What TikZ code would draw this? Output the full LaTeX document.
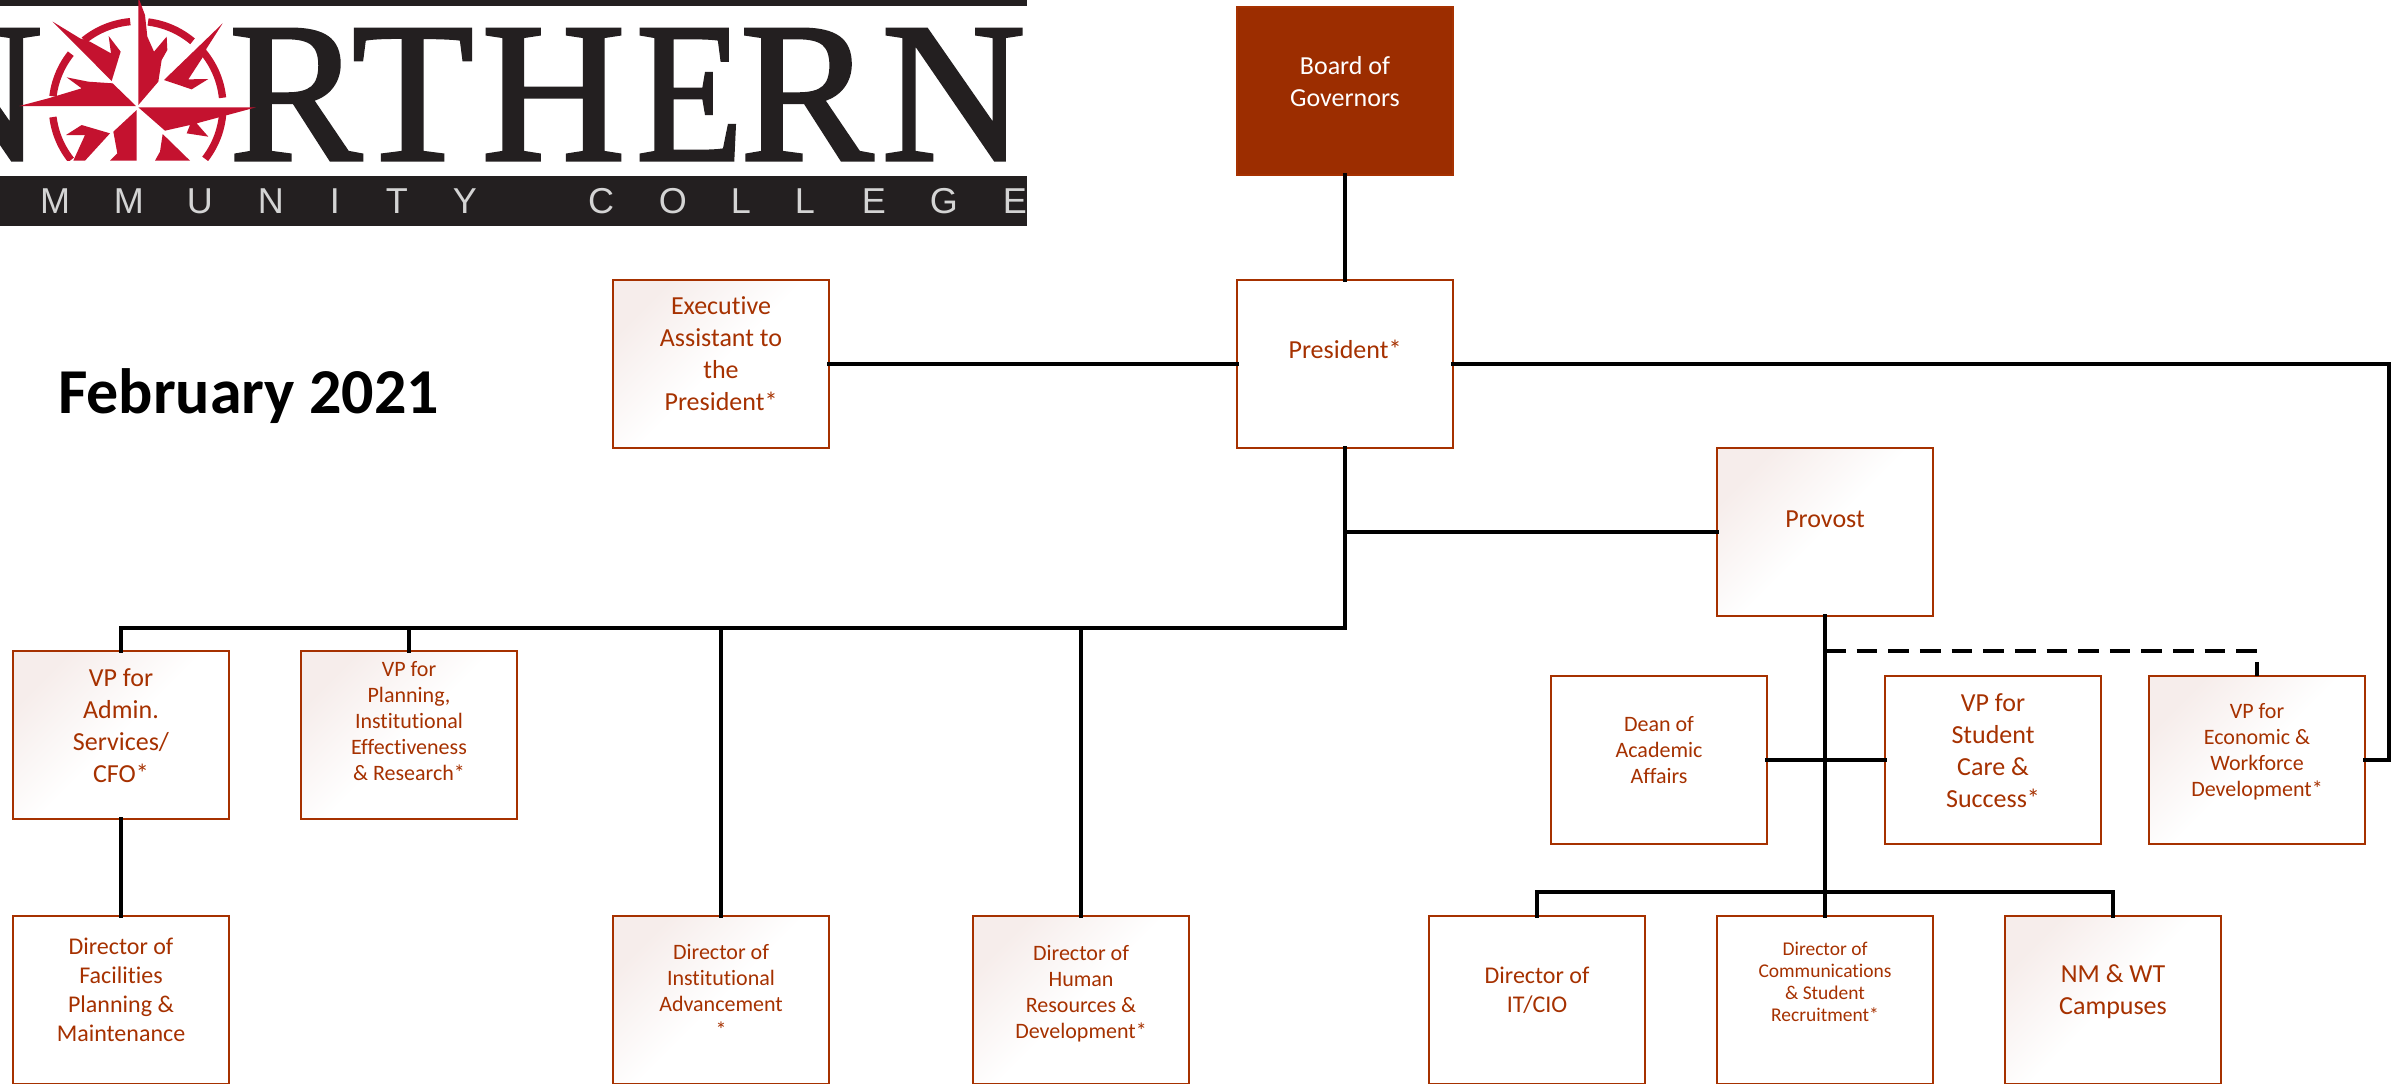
\documentclass[tikz,border=0pt]{standalone}
\usepackage{graphicx}
\usepackage{fontspec}
\setmainfont[Ligatures=NoCommon]{Carlito}
\newfontfamily\logoserif[FakeBold=1.5]{Liberation Serif}
\newfontfamily\logosans{Liberation Sans}
\definecolor{orgred}{HTML}{A63100}
\definecolor{boardred}{HTML}{9C2D00}
\definecolor{gradpink}{HTML}{F6EDEB}
\definecolor{logoblack}{HTML}{231F20}
\definecolor{logored}{HTML}{C4122F}
\definecolor{logogrey}{HTML}{D4D4D4}
\newdimen\pxu \pxu=.75pt
\newcommand\fa{\fontsize{19.5}{24}\selectfont}
\newcommand\fb{\fontsize{18}{21.75}\selectfont}
\newcommand\fc{\fontsize{16.5}{19.5}\selectfont}
\newcommand\fd{\fontsize{14.6}{16.6}\selectfont}
% #1 raise of first baseline above box centre (px), #2 font, #3 lines
\newcommand\bt[3]{\raisebox{#1\pxu}[0pt][0pt]{#2\begin{tabular}[t]{@{}c@{}}#3\end{tabular}}}
% letter centred at absolute x
\newcommand\putl[2]{\rlap{\kern#1\pxu\hbox to 0pt{\hss#2\hss}}}
\tikzset{
  orgbox/.style={draw=orgred,line width=1.7pt,rectangle,minimum width=162pt,minimum height=126pt,inner sep=0pt,outer sep=0pt,text=orgred,fill=white},
  gradbox/.style={orgbox,top color=gradpink,bottom color=white,middle color=white,shading angle=45},
  boardbox/.style={orgbox,fill=boardred,text=white},
  conn/.style={draw=black,line width=2.5pt,line cap=rect},
  dashconn/.style={draw=black,line width=2.5pt,dash pattern=on 15.5pt off 8.23pt},
  plain/.style={inner sep=0pt,outer sep=0pt},
  redarc/.style={draw=logored,line width=5.5pt}
}
\begin{document}
\begin{tikzpicture}[x=.75pt,y=-.75pt]
\path[use as bounding box,clip] (0,0) rectangle (2397,1083);
\fill[white] (0,0) rectangle (2397,1083);
% logo
\fill[logoblack] (0,0) rectangle (1027,6);
\fill[logoblack] (0,176) rectangle (1027,226);
\node[plain,anchor=base west,text=logoblack] (wordmark) at (0,160) {\logoserif\fontsize{150}{150}\selectfont\putl{-30}{N}\putl{295}{R}\putl{412}{T}\putl{553}{H}\putl{689}{\scalebox{.88}[1]{E}}\putl{806}{R}\putl{953}{N}};
\node[plain,anchor=base west,text=logogrey] (tagline) at (0,213) {\logosans\fontsize{27}{27}\selectfont\putl{55}{M}\putl{129}{M}\putl{200}{U}\putl{271}{N}\putl{335}{I}\putl{397}{T}\putl{465}{Y} \putl{591}{C}\putl{663}{O}\putl{731}{L}\putl{795}{L}\putl{864}{E}\putl{934}{G}\putl{1005}{E}};
\begin{scope}[x=.25pt,y=-.25pt,shift={(30,0)}]
  \begin{scope}
  \clip (0,-10) rectangle (780,482);
  \foreach \sa/\ea in {95/129,83/50,40/6,141.6/173,187/218.6,-5.5/-37.7}
    \draw[redarc] plot[domain=\sa:\ea,samples=14] ({383+256*cos(\x)},{320-256*sin(\x)});
  \fill[logored] (385,-8) -- (405,45) -- (412,110) -- (432,155) -- (470,110) -- (472,150) -- (455,180) -- (445,245) -- (385,315) -- cycle;
  \fill[logored] (638,70) -- (462,240) -- (545,268) -- (595,237) -- (535,238) -- (578,172) -- (590,145) -- cycle;
  \fill[logored] (128,65) -- (305,243) -- (332,155) -- (296,108) -- (303,160) -- (240,125) -- (210,115) -- cycle;
  \fill[logored] (28,318) -- (115,295) -- (215,265) -- (170,232) -- (235,245) -- (308,250) -- (378,318) -- cycle;
  \fill[logored] (380,330) -- (380,482) -- (300,482) -- (322,460) -- (310,395) -- cycle;
  \fill[logored] (300,400) -- (215,375) -- (168,405) -- (225,405) -- (190,482) -- (225,482) -- cycle;
  \fill[logored] (385,322) -- (738,322) -- (560,370) -- (595,410) -- (530,400) -- (540,375) -- (465,392) -- cycle;
  \fill[logored] (458,402) -- (540,482) -- (435,482) -- (450,455) -- cycle;
  \end{scope}
\end{scope}
% date
\node[plain,anchor=base west,text=black] (date) at (58,413) {\fontsize{48}{58}\selectfont\bfseries February 2021};
% boxes
\node[boardbox] (board) at (1345,91) {\bt{17}{\fa}{Board of\\Governors}};
\node[orgbox] (president) at (1345,364) {\bt{6}{\fa}{President*}};
\node[gradbox] (exec) at (721,364) {\bt{50}{\fa}{Executive\\Assistant to\\the\\President*}};
\node[gradbox] (provost) at (1825,532) {\bt{5}{\fa}{Provost}};
\node[gradbox] (vpadmin) at (121,735) {\bt{49}{\fa}{VP for\\Admin.\\Services/\\CFO*}};
\node[gradbox] (vpplan) at (409,735) {\bt{59}{\fc}{VP for\\Planning,\\Institutional\\Effectiveness\\\& Research*}};
\node[orgbox] (dean) at (1659,760) {\bt{29}{\fc}{Dean of\\Academic\\Affairs}};
\node[orgbox] (vpstudent) at (1993,760) {\bt{49}{\fa}{VP for\\Student\\Care \&\\Success*}};
\node[gradbox] (vpecon) at (2257,760) {\bt{41.6}{\fc}{VP for\\Economic \&\\Workforce\\Development*}};
\node[orgbox] (dirfac) at (121,1000) {\bt{46}{\fb}{Director of\\Facilities\\Planning \&\\Maintenance}};
\node[gradbox] (dirinst) at (721,1000) {\bt{41}{\fc}{Director of\\Institutional\\Advancement\\{*}}};
\node[gradbox] (dirhr) at (1081,1000) {\bt{40}{\fc}{Director of\\Human\\Resources \&\\Development*}};
\node[orgbox] (dirit) at (1537,1000) {\bt{17}{\fb}{Director of\\IT/CIO}};
\node[orgbox] (dircomm) at (1825,1000) {\bt{45}{\fd}{Director of\\Communications\\\& Student\\Recruitment*}};
\node[gradbox] (nmwt) at (2113,1000) {\bt{18}{\fa}{NM \& WT\\Campuses}};
% junctions
\coordinate (bus) at (1345,628);
\coordinate (lowbus) at (1825,892);
\coordinate (dashstart) at (1825,651);
\coordinate (outer) at (2389,364);
% connectors
\draw[conn] (board.south) -- (president.north);
\draw[conn] (exec.east) -- (president.west);
\draw[conn] (president.south) -- (bus);
\draw[conn] (president.south |- provost.west) -- (provost.west);
\draw[conn] (bus) -- (vpadmin.north |- bus) -- (vpadmin.north);
\draw[conn] (vpplan.north |- bus) -- (vpplan.north);
\draw[conn] (dirinst.north |- bus) -- (dirinst.north);
\draw[conn] (dirhr.north |- bus) -- (dirhr.north);
\draw[conn] (vpadmin.south) -- (dirfac.north);
\draw[conn] (provost.south) -- (dircomm.north);
\draw[conn] (dean.east) -- (vpstudent.west);
\draw[conn] (dirit.north) -- (dirit.north |- lowbus) -- (nmwt.north |- lowbus) -- (nmwt.north);
\draw[conn] (president.east) -- (outer) -- (outer |- vpecon.east) -- (vpecon.east);
\draw[dashconn] (dashstart) -- (vpecon.north |- dashstart) -- (vpecon.north);
\end{tikzpicture}
\end{document}
